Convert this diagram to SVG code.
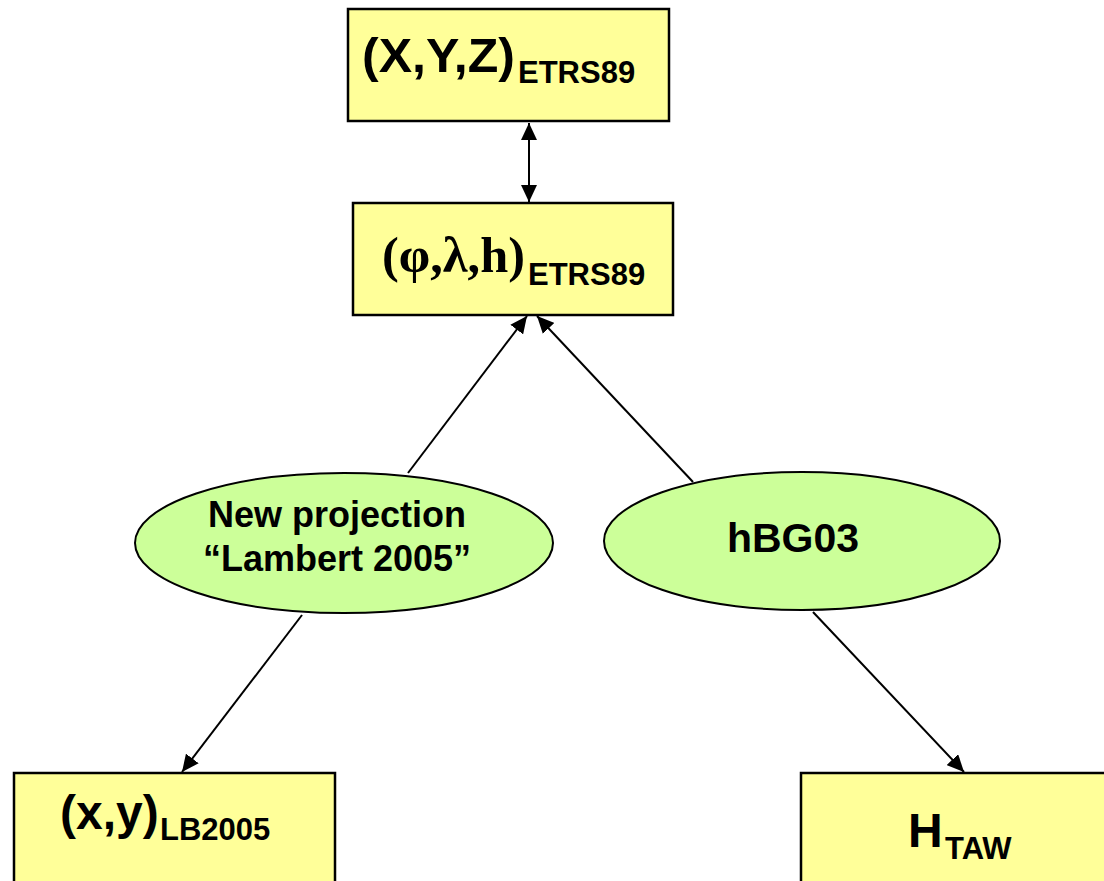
<svg xmlns="http://www.w3.org/2000/svg" width="1104" height="881" viewBox="0 0 1104 881">
<style>
.box{fill:#FFFF99;stroke:#000;stroke-width:2.5}
.ell{fill:#CCFF99;stroke:#000;stroke-width:2}
.t{font-family:"Liberation Sans",Arial,sans-serif;font-weight:bold;fill:#000}
.ts{font-family:"Liberation Serif","Times New Roman",serif;font-weight:bold;fill:#000}
.c{stroke:#000;stroke-width:2;fill:none}
</style>
<defs>
<marker id="ah" markerUnits="userSpaceOnUse" markerWidth="18" markerHeight="16" refX="17" refY="8" orient="auto-start-reverse" viewBox="0 0 18 16">
<path d="M0,0 L17,8 L0,16 Z" fill="#000"/>
</marker>
</defs>
<rect width="1104" height="881" fill="#fff"/>
<g id="connectors">
<line class="c" x1="529" y1="123" x2="529" y2="202" marker-start="url(#ah)" marker-end="url(#ah)"/>
<line class="c" x1="408" y1="473" x2="527" y2="316" marker-end="url(#ah)"/>
<line class="c" x1="693" y1="482" x2="537" y2="316" marker-end="url(#ah)"/>
<line class="c" x1="302" y1="615" x2="182" y2="772" marker-end="url(#ah)"/>
<line class="c" x1="813" y1="612" x2="964" y2="772" marker-end="url(#ah)"/>
</g>
<g id="xyz">
<rect class="box" x="348" y="9" width="321" height="112"/>
<text class="t" x="362" y="72" font-size="49" textLength="153" lengthAdjust="spacingAndGlyphs">(X,Y,Z)</text>
<text class="t" x="518" y="83" font-size="31">ETRS89</text>
</g>
<g id="plh">
<rect class="box" x="353" y="203" width="320" height="112"/>
<text class="ts" x="382" y="272" font-size="50" textLength="143" lengthAdjust="spacingAndGlyphs">(φ,λ,h)</text>
<text class="t" x="528" y="285" font-size="31">ETRS89</text>
</g>
<g id="lambert">
<ellipse class="ell" cx="344" cy="543" rx="209" ry="70"/>
<text class="t" x="337" y="527" font-size="36" text-anchor="middle">New projection</text>
<text class="t" x="337" y="571" font-size="36" text-anchor="middle">“Lambert 2005”</text>
</g>
<g id="hbg03">
<ellipse class="ell" cx="802" cy="541" rx="198" ry="69"/>
<text class="t" x="793" y="552" font-size="41" text-anchor="middle">hBG03</text>
</g>
<g id="xy">
<rect class="box" x="14" y="773" width="321" height="130"/>
<text class="t" x="60" y="829" font-size="48">(x,y)</text>
<text class="t" x="160" y="840" font-size="31">LB2005</text>
</g>
<g id="htaw">
<rect class="box" x="801" y="773" width="330" height="130"/>
<text class="t" x="908" y="847" font-size="48">H</text>
<text class="t" x="945" y="859" font-size="31">TAW</text>
</g>
</svg>
